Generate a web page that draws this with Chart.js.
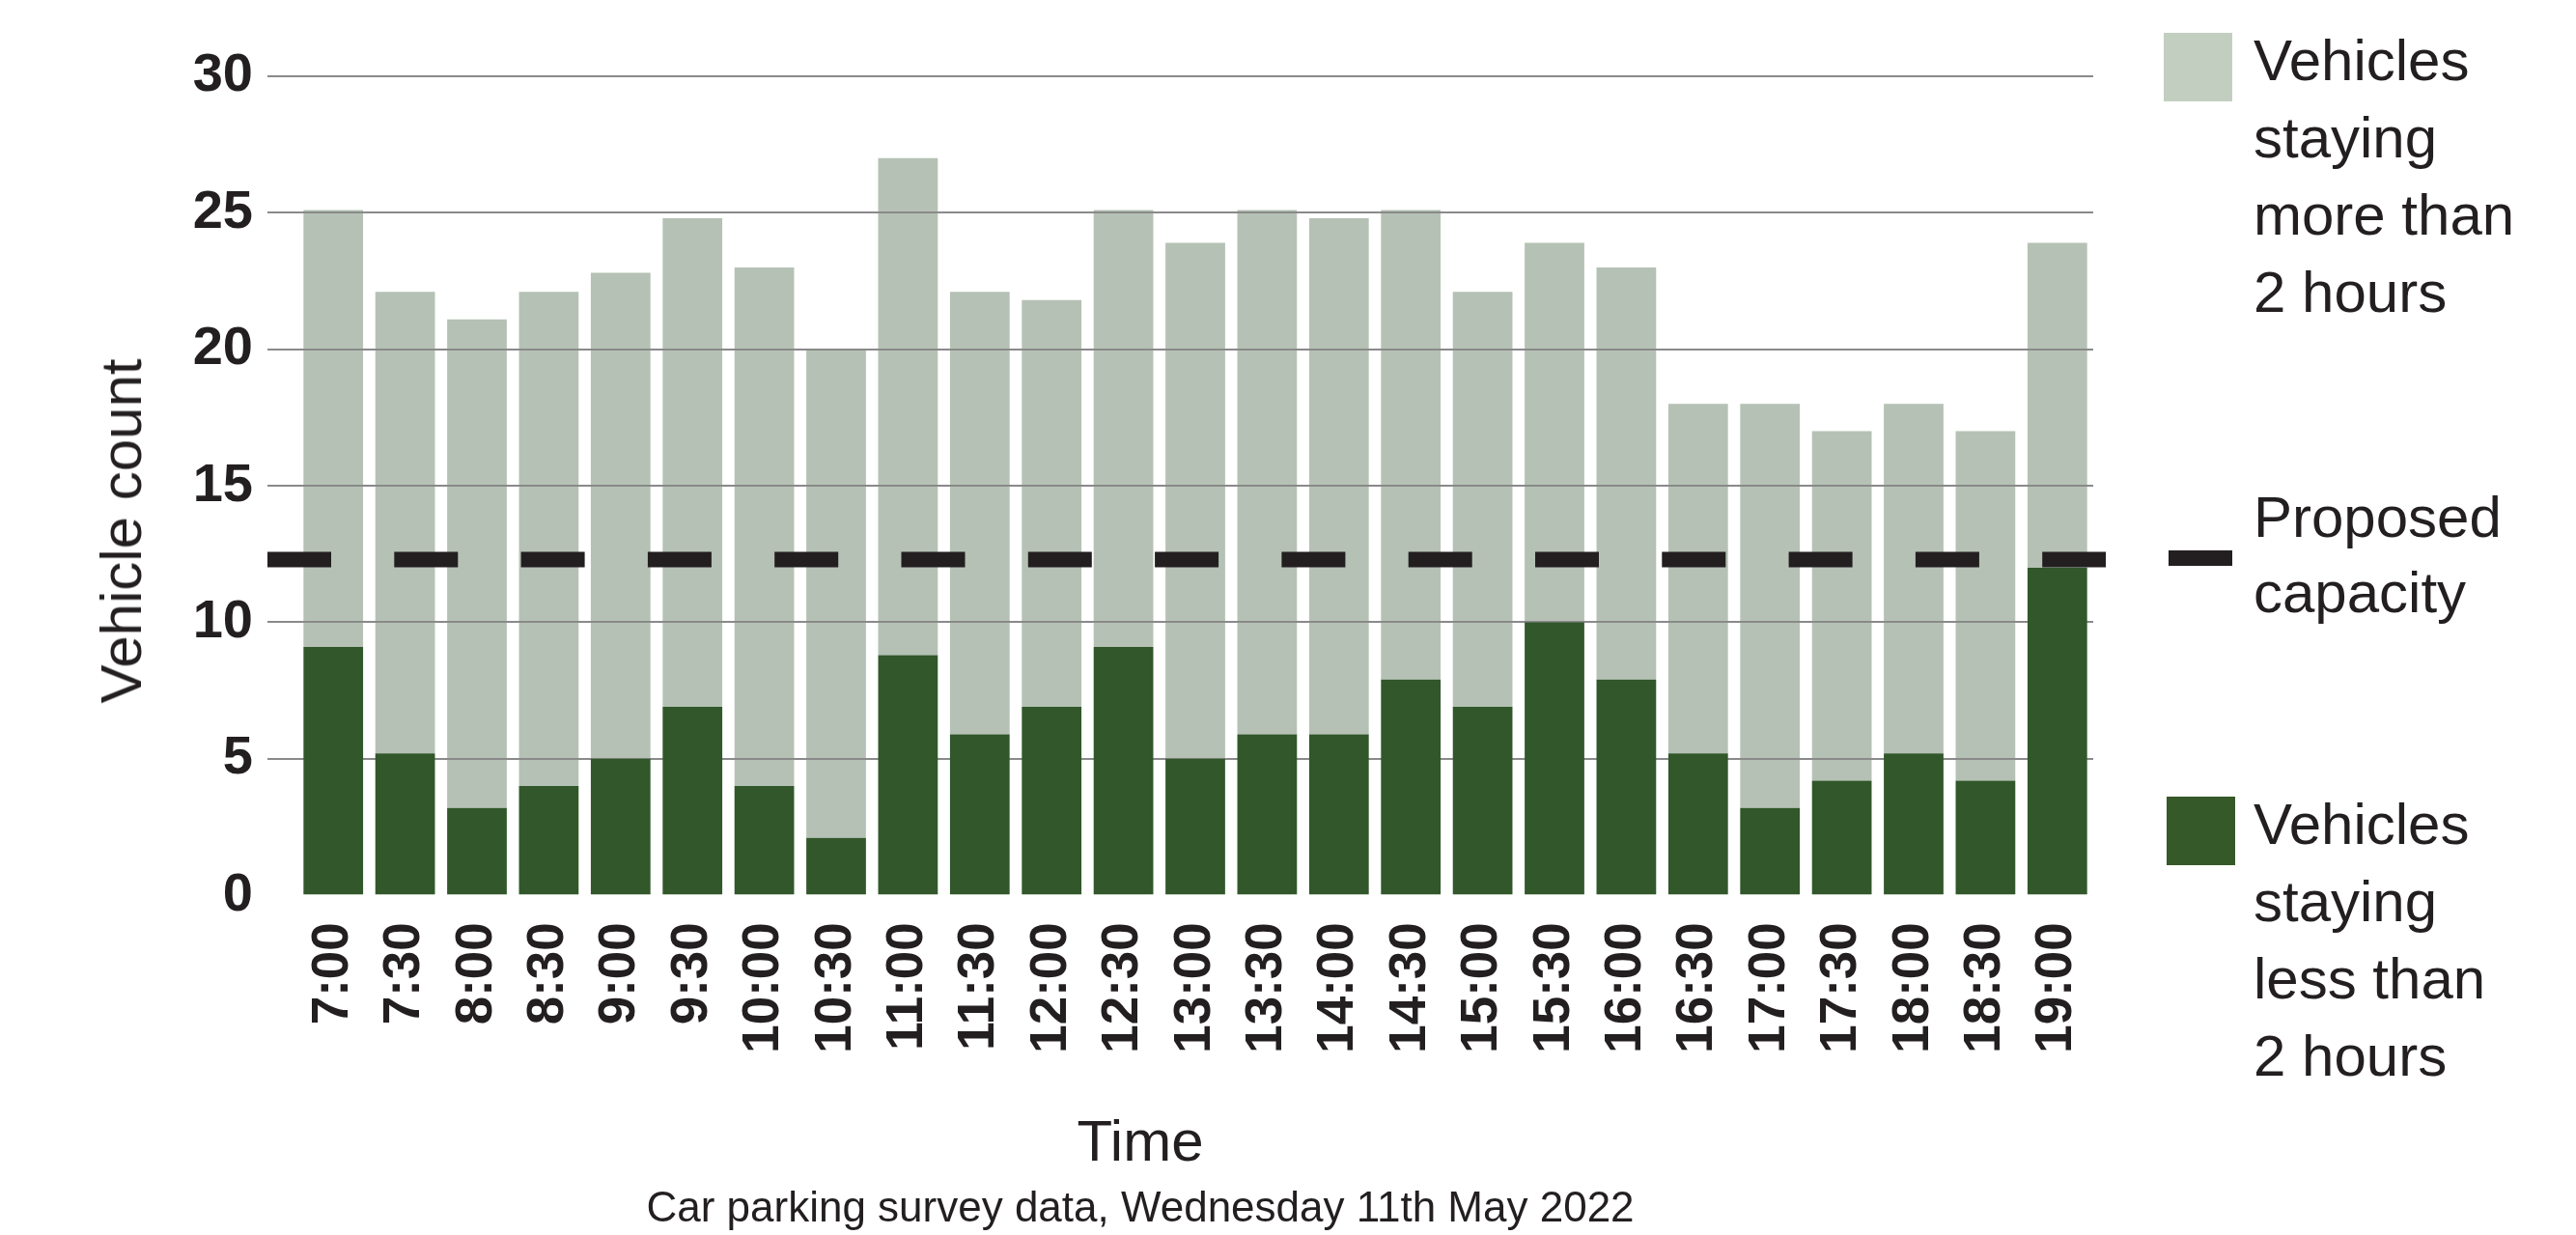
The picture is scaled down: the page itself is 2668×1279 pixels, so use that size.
<!DOCTYPE html>
<html lang="en">
<head>
  <meta charset="UTF-8">
  <title>Car parking survey</title>
  <script src="https://cdn.jsdelivr.net/npm/chart.js"></script>
  <style>
    body {
      margin: 0;
      background: #fff;
      font-family: 'Liberation Sans', Arial, sans-serif;
      color: #231f20;
    }

    #wrap {
      position: relative;
      width: 2668px;
      height: 1279px;
    }

    #chart {
      position: absolute;
      left: 0;
      top: 0;
    }

    .y-title {
      position: absolute;
      left: 126px;
      top: 550px;
      font-size: 60px;
      line-height: 60px;
      white-space: nowrap;
      transform: translate(-50%, -50%) rotate(-90deg);
    }

    .legend-swatch {
      position: absolute;
      width: 71px;
      height: 71px;
    }

    .legend-dash {
      position: absolute;
      width: 66px;
      height: 16px;
      background: #231f20;
    }

    .legend-text {
      position: absolute;
      left: 2334px;
      font-size: 60px;
      line-height: 80px;
      white-space: nowrap;
    }
  </style>
</head>
<body>

<div id="wrap">
  <canvas id="chart" width="2668" height="1279"></canvas>

  <div class="y-title">Vehicle count</div>

  <div class="legend-swatch" style="left:2241px; top:34px; background:#c2cfc0;"></div>
  <div class="legend-text" style="top:23px;">Vehicles<br>staying<br>more than<br>2 hours</div>

  <div class="legend-dash" style="left:2246px; top:570px;"></div>
  <div class="legend-text" style="top:497px; line-height:78px;">Proposed<br>capacity</div>

  <div class="legend-swatch" style="left:2244px; top:825px; background:#36592a;"></div>
  <div class="legend-text" style="top:814px;">Vehicles<br>staying<br>less than<br>2 hours</div>
</div>

<script>
  const times = ['7:00', '7:30', '8:00', '8:30', '9:00', '9:30', '10:00', '10:30', '11:00', '11:30',
    '12:00', '12:30', '13:00', '13:30', '14:00', '14:30', '15:00', '15:30', '16:00', '16:30',
    '17:00', '17:30', '18:00', '18:30', '19:00'];

  // vehicles parked under two hours
  const shortStay = [9.1, 5.2, 3.2, 4.0, 5.0, 6.9, 4.0, 2.1, 8.8, 5.9,
    6.9, 9.1, 5.0, 5.9, 5.9, 7.9, 6.9, 10.0, 7.9, 5.2,
    3.2, 4.2, 5.2, 4.2, 12.0];

  // vehicles parked over two hours (stacked on top)
  const longStay = [16.0, 16.9, 17.9, 18.1, 17.8, 17.9, 19.0, 17.9, 18.2, 16.2,
    14.9, 16.0, 18.9, 19.2, 18.9, 17.2, 15.2, 13.9, 15.1, 12.8,
    14.8, 12.8, 12.8, 12.8, 11.9];

  const proposedCapacity = 12.3;
  const yTicks = [0, 5, 10, 15, 20, 25, 30];

  const FONT = "'Liberation Sans', Arial, sans-serif";
  const INK = '#231f20';
  const GRID = '#8a8a8a';

  // gridlines sit over the pale bars but under the dark ones
  const gridBetweenBars = {
    id: 'gridBetweenBars',
    beforeDatasetDraw(chart, args) {
      if (args.index === 0) {
        chart.scales.y.drawGrid(chart.chartArea);
      }
    }
  };

  // dashed capacity line, starting at the gridline stubs
  const capacityLine = {
    id: 'capacityLine',
    afterDatasetsDraw(chart) {
      const y = chart.scales.y;
      const yPx = y.getPixelForValue(proposedCapacity);
      const x0 = y.right - y.options.grid.tickLength;
      const x1 = chart.chartArea.right + 13;
      const ctx = chart.ctx;
      ctx.save();
      ctx.strokeStyle = INK;
      ctx.lineWidth = 16;
      ctx.lineCap = 'butt';
      ctx.setLineDash([66, 65.3]);
      ctx.beginPath();
      ctx.moveTo(x0, yPx);
      ctx.lineTo(x1, yPx);
      ctx.stroke();
      ctx.restore();
    }
  };

  new Chart(document.getElementById('chart'), {
    type: 'bar',
    data: {
      labels: times,
      datasets: [
        {
          label: 'Vehicles staying less than 2 hours',
          data: shortStay,
          backgroundColor: '#31572b',
          barPercentage: 0.83,
          categoryPercentage: 1
        },
        {
          label: 'Vehicles staying more than 2 hours',
          data: longStay,
          backgroundColor: '#b5c1b4',
          barPercentage: 0.83,
          categoryPercentage: 1
        }
      ]
    },
    options: {
      responsive: false,
      animation: false,
      layout: {
        padding: { left: 194, right: 500, top: 79, bottom: 0 }
      },
      plugins: {
        legend: { display: false },
        tooltip: { enabled: false },
        subtitle: {
          display: true,
          text: 'Time',
          position: 'bottom',
          color: INK,
          font: { family: FONT, size: 60, weight: 'normal' },
          padding: { top: 56, bottom: 5 }
        },
        title: {
          display: true,
          text: 'Car parking survey data, Wednesday 11th May 2022',
          position: 'bottom',
          color: INK,
          font: { family: FONT, size: 44, weight: 'normal' },
          padding: { top: 0, bottom: 0 }
        }
      },
      scales: {
        x: {
          stacked: true,
          grid: { display: false, drawTicks: false },
          border: { display: false },
          ticks: {
            color: INK,
            font: { family: FONT, size: 53, weight: 'bold' },
            minRotation: 90,
            maxRotation: 90,
            autoSkip: false,
            padding: 28
          },
          afterFit(scale) { scale.height = 166; }
        },
        y: {
          stacked: true,
          min: yTicks[0],
          max: yTicks[yTicks.length - 1],
          afterBuildTicks(scale) { scale.ticks = yTicks.map(v => ({ value: v })); },
          grid: {
            // no baseline rule at zero
            color: ctx => (ctx.tick && ctx.tick.value === 0) ? 'rgba(0,0,0,0)' : GRID,
            lineWidth: 2,
            tickLength: 31,
            drawTicks: true
          },
          border: { display: false },
          ticks: {
            color: INK,
            font: { family: FONT, size: 56, weight: 'bold' },
            padding: 15
          },
          afterFit(scale) { scale.width = 114; }
        }
      }
    },
    plugins: [gridBetweenBars, capacityLine]
  });
</script>

</body>
</html>
